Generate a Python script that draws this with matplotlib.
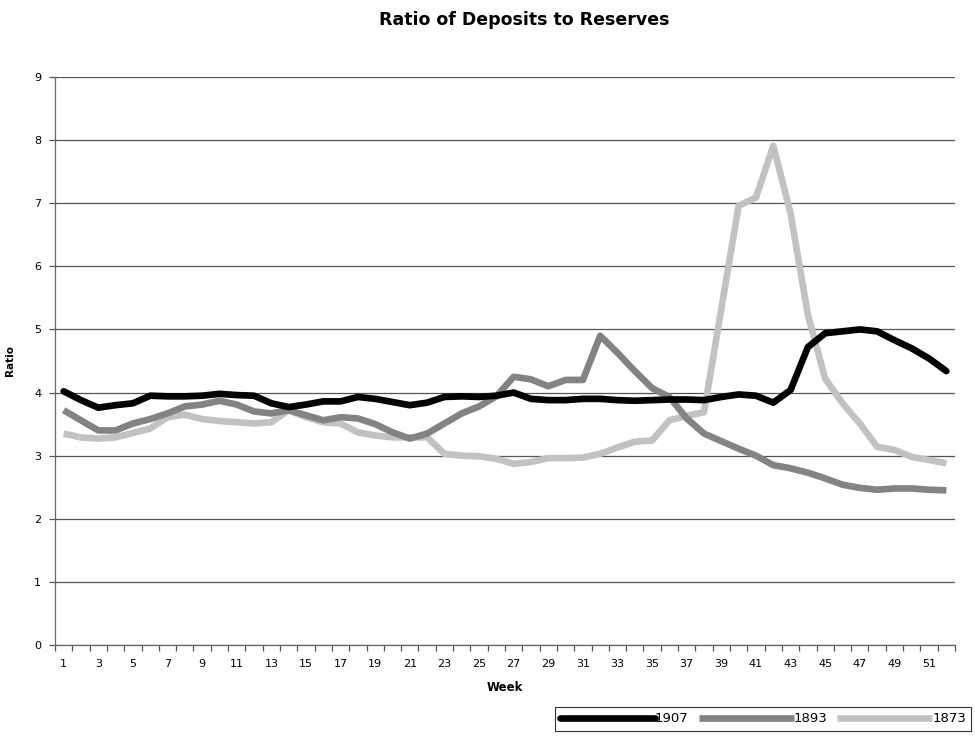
import matplotlib
matplotlib.use("Agg")
import matplotlib.pyplot as plt
import numpy as np

weeks = list(range(1, 53))

ratio_1907 = [4.02, 3.88, 3.76, 3.80, 3.83, 3.95, 3.94, 3.94, 3.95, 3.98,
              3.96, 3.95, 3.83, 3.77, 3.81, 3.86, 3.86, 3.93, 3.90, 3.85,
              3.80, 3.84, 3.93, 3.94, 3.93, 3.95, 4.00, 3.90, 3.88, 3.88,
              3.90, 3.90, 3.88, 3.87, 3.88, 3.89, 3.89, 3.88, 3.93, 3.97,
              3.95, 3.84, 4.04, 4.72, 4.94, 4.97, 5.00, 4.97, 4.83, 4.70,
              4.54, 4.34]

ratio_1893 = [3.72, 3.56, 3.40, 3.40, 3.51, 3.58, 3.67, 3.78, 3.81, 3.87,
              3.81, 3.70, 3.67, 3.72, 3.64, 3.56, 3.61, 3.59, 3.50, 3.37,
              3.27, 3.35, 3.51, 3.67, 3.78, 3.94, 4.25, 4.21, 4.10, 4.20,
              4.20, 4.90, 4.63, 4.34, 4.07, 3.93, 3.59, 3.35, 3.23, 3.11,
              3.00, 2.85, 2.80, 2.73, 2.64, 2.54, 2.49, 2.46, 2.48, 2.48,
              2.46, 2.45]

ratio_1873 = [3.35, 3.29, 3.27, 3.29, 3.36, 3.43, 3.61, 3.65, 3.58, 3.55,
              3.53, 3.51, 3.53, 3.72, 3.61, 3.53, 3.51, 3.37, 3.32, 3.29,
              3.29, 3.29, 3.03, 3.00, 2.99, 2.95, 2.87, 2.90, 2.96, 2.96,
              2.97, 3.03, 3.13, 3.22, 3.24, 3.56, 3.63, 3.69, 5.33, 6.96,
              7.09, 7.91, 6.84, 5.23, 4.22, 3.83, 3.51, 3.14, 3.09, 2.98,
              2.93, 2.88]

series_labels = ["1907", "1893", "1873"]
xtick_labels = [str(w) for w in range(1, 53, 2)]

plt.rcParams['font.family'] = ['DejaVu Sans']

fig = plt.figure(figsize=(9.75, 7.37), dpi=100)
ax = fig.add_axes([55/975, 1 - 645/737, 900/975, 568/737])

ax.plot(weeks, ratio_1873, color='#c2c2c2', lw=4.8, solid_capstyle='butt',
        label=series_labels[2], zorder=3)
ax.plot(weeks, ratio_1893, color='#838383', lw=4.8, solid_capstyle='butt',
        label=series_labels[1], zorder=4)
ax.plot(weeks, ratio_1907, color='black', lw=4.8, solid_capstyle='round',
        label=series_labels[0], zorder=5)

ax.set_xlim(0.5, 52.5)
ax.set_ylim(0, 9)
ax.set_yticks(range(0, 10))
ax.yaxis.grid(True, color='#555555', lw=0.9)
ax.set_axisbelow(True)

ax.set_xticks(list(range(1, 53, 2)))
ax.set_xticklabels(xtick_labels)
ax.set_xticks(np.arange(0.5, 53, 1), minor=True)
ax.tick_params(axis='x', which='major', length=0, pad=10, labelsize=8)
ax.tick_params(axis='x', which='minor', length=4, width=0.9, color='#555555',
               direction='out')
ax.tick_params(axis='y', length=4, width=0.9, color='#555555', pad=6,
               labelsize=8)

for s in ['top', 'right']:
    ax.spines[s].set_visible(False)
for s in ['left', 'bottom']:
    ax.spines[s].set_color('#666666')
    ax.spines[s].set_linewidth(0.9)

ax.set_xlabel("Week", fontsize=8.5, fontweight='bold', labelpad=9)
ax.set_ylabel("Ratio", fontsize=7.5, fontweight='bold', labelpad=14)

fig.text(524/975, 1 - 20/737, "Ratio of Deposits to Reserves", ha='center',
         va='center', fontsize=12.5, fontweight='bold')

handles, labels = ax.get_legend_handles_labels()
order = [2, 1, 0]
leg = fig.legend([handles[i] for i in order], [labels[i] for i in order],
                 loc='center', bbox_to_anchor=(763/975, 1 - 719/737), ncol=3,
                 frameon=True, fancybox=False, edgecolor='black',
                 fontsize=9.5, handlelength=7.2, handletextpad=0.0,
                 columnspacing=0.75, borderpad=0.4, borderaxespad=0)
leg.get_frame().set_linewidth(0.8)

fig.savefig("out.png", dpi=100)
